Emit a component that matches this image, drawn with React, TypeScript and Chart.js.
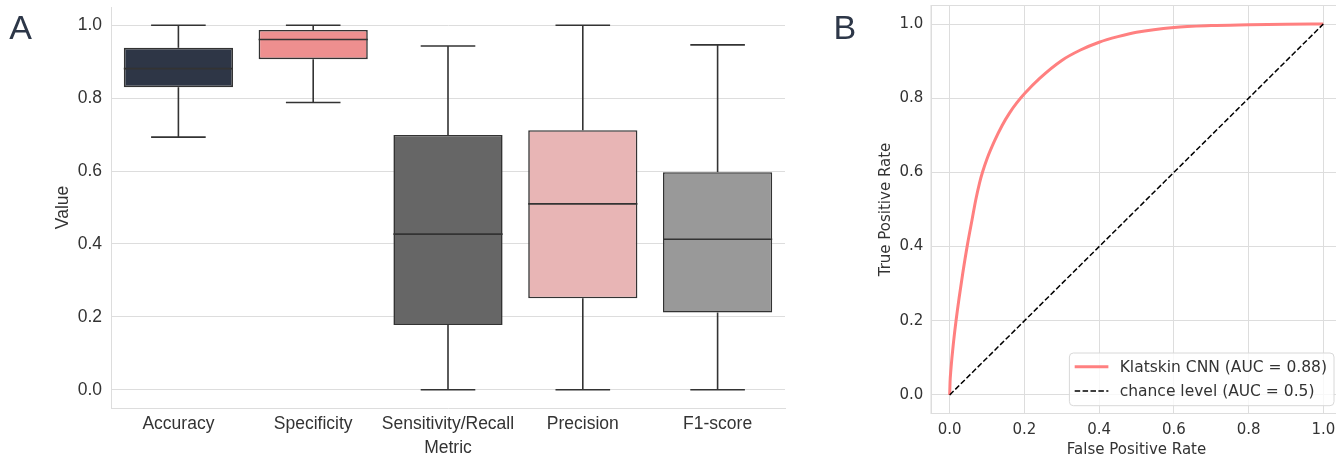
import React, { useEffect, useRef } from "react";
import { Chart, registerables } from "chart.js";
Chart.register(...registerables);

// ---------- Panel A data (box plot) ----------
const metrics = ["Accuracy", "Specificity", "Sensitivity/Recall", "Precision", "F1-score"];
const whiskerLow = [0.693, 0.788, 0.0, 0.0, 0.0];
const quartile1 = [0.83, 0.907, 0.178, 0.251, 0.212];
const medians = [0.881, 0.961, 0.427, 0.51, 0.413];
const quartile3 = [0.938, 0.987, 0.699, 0.712, 0.597];
const whiskerHigh = [1.0, 1.0, 0.943, 1.0, 0.946];
const boxColors = ["#2e3646", "#ee8f8f", "#666666", "#e8b5b5", "#999999"];

// ---------- Panel B data (ROC) ----------
const fpr = [0, 0.001, 0.003, 0.006, 0.01, 0.017, 0.025, 0.035, 0.048, 0.06, 0.07, 0.08, 0.088, 0.1, 0.12, 0.14, 0.16, 0.18, 0.2, 0.24, 0.3, 0.35, 0.4, 0.45, 0.5, 0.6, 0.7, 0.8, 0.9, 1.0];
const tpr = [0, 0.035, 0.065, 0.1, 0.14, 0.2, 0.26, 0.328, 0.408, 0.473, 0.527, 0.572, 0.601, 0.637, 0.685, 0.726, 0.76, 0.788, 0.812, 0.853, 0.902, 0.93, 0.951, 0.966, 0.978, 0.991, 0.996, 0.998, 0.9995, 1.0];
const chanceX = [0, 1];
const chanceY = [0, 1];
const rocLabel = "Klatskin CNN (AUC = 0.88)";
const chanceLabel = "chance level (AUC = 0.5)";

const unitTicks = [0, 0.2, 0.4, 0.6, 0.8, 1.0];

const ARIAL = '"Liberation Sans", Arial, sans-serif';
const DEJAVU = '"DejaVu Sans", sans-serif';
const TEXT = "#333333";
const GRID = "#dddddd";
const EDGE = "#333333";

const letterPlugin = {
  id: "panelLetter",
  afterDraw(chart: any, _args: any, opts: any) {
    const ctx = chart.ctx;
    ctx.save();
    ctx.font = `${opts.size}px ${opts.family}`;
    ctx.fillStyle = opts.color;
    ctx.textAlign = "left";
    ctx.textBaseline = "alphabetic";
    ctx.fillText(opts.text, opts.x, opts.y);
    ctx.restore();
  },
};

const boxWhiskers = {
  id: "boxWhiskers",
  afterDatasetsDraw(chart: any) {
    const meta = chart.getDatasetMeta(0);
    const ys = chart.scales.y;
    const ctx = chart.ctx;
    ctx.save();
    ctx.strokeStyle = EDGE;
    ctx.lineWidth = 1.6;
    const line = (x1: number, y1: number, x2: number, y2: number) => {
      ctx.beginPath();
      ctx.moveTo(x1, y1);
      ctx.lineTo(x2, y2);
      ctx.stroke();
    };
    meta.data.forEach((bar: any, i: number) => {
      const { x, width } = bar.getProps(["x", "width"], true);
      const yLow = ys.getPixelForValue(whiskerLow[i]);
      const yQ1 = ys.getPixelForValue(quartile1[i]);
      const yMed = ys.getPixelForValue(medians[i]);
      const yQ3 = ys.getPixelForValue(quartile3[i]);
      const yHigh = ys.getPixelForValue(whiskerHigh[i]);
      line(x, yQ1, x, yLow);
      line(x - width / 4, yLow, x + width / 4, yLow);
      line(x, yQ3, x, yHigh);
      line(x - width / 4, yHigh, x + width / 4, yHigh);
      line(x - width / 2, yMed, x + width / 2, yMed);
    });
    ctx.restore();
  },
};

const frameBox = {
  id: "frameBox",
  beforeDatasetsDraw(chart: any) {
    const { ctx, chartArea } = chart;
    ctx.save();
    ctx.strokeStyle = GRID;
    ctx.lineWidth = 1;
    ctx.strokeRect(chartArea.left, chartArea.top, chartArea.right - chartArea.left, chartArea.bottom - chartArea.top);
    ctx.restore();
  },
};

const rocLegend = {
  id: "rocLegend",
  afterDraw(chart: any) {
    const { ctx, chartArea } = chart;
    const ds = chart.data.datasets;
    ctx.save();
    ctx.font = `15.5px ${DEJAVU}`;
    const textW = Math.max(...ds.map((d: any) => ctx.measureText(d.label).width));
    const padL = 5.3, handle = 33.7, gap = 11.3, padR = 7;
    const boxW = padL + handle + gap + textW + padR;
    const boxH = 52.7;
    const right = chartArea.right - 8;
    const bottom = chartArea.bottom - 7.8;
    const left = right - boxW;
    const top = bottom - boxH;
    ctx.beginPath();
    ctx.roundRect(left, top, boxW, boxH, 4);
    ctx.fillStyle = "rgba(255,255,255,0.8)";
    ctx.fill();
    ctx.strokeStyle = "#d8d8d8";
    ctx.lineWidth = 1;
    ctx.stroke();
    ds.forEach((d: any, i: number) => {
      const yy = top + 13.7 + i * 24.3;
      ctx.beginPath();
      ctx.setLineDash(d.borderDash || []);
      ctx.strokeStyle = d.borderColor;
      ctx.lineWidth = d.borderWidth;
      ctx.moveTo(left + padL, yy);
      ctx.lineTo(left + padL + handle, yy);
      ctx.stroke();
      ctx.setLineDash([]);
      ctx.fillStyle = TEXT;
      ctx.textAlign = "left";
      ctx.textBaseline = "middle";
      ctx.fillText(d.label, left + padL + handle + gap, yy + 0.8);
    });
    ctx.restore();
  },
};

const fixTicks = (scale: any) => {
  scale.ticks = unitTicks.map((v) => ({ value: v }));
};
const fmt = (v: any) => Number(v).toFixed(1);
const noPad = (s: any) => {
  s.paddingTop = 0;
  s.paddingBottom = 0;
  s.paddingLeft = 0;
  s.paddingRight = 0;
};

export default function App() {
  const refA = useRef<HTMLCanvasElement>(null);
  const refB = useRef<HTMLCanvasElement>(null);

  useEffect(() => {
    const fontA = { family: ARIAL, size: 17.5 };
    const chartA = new Chart(refA.current!, {
      type: "bar",
      data: {
        labels: metrics,
        datasets: [
          {
            label: "Value",
            data: quartile1.map((q, i) => [q, quartile3[i]]) as any,
            backgroundColor: boxColors,
            borderColor: EDGE,
            borderWidth: 1.6,
            borderSkipped: false,
            barPercentage: 0.81,
            categoryPercentage: 1.0,
          },
        ],
      },
      options: {
        responsive: false,
        animation: false,
        devicePixelRatio: 1,
        layout: { padding: { left: 0, top: 7, right: 15, bottom: 0 } },
        plugins: {
          legend: { display: false },
          tooltip: { enabled: false },
          panelLetter: { text: "A", x: 9.3, y: 39.3, size: 34, family: ARIAL, color: "#2d3748" },
        } as any,
        scales: {
          x: {
            type: "category",
            grid: { display: false, drawTicks: false },
            border: { display: true, color: GRID, width: 1 },
            ticks: { font: fontA, color: TEXT, padding: 6, maxRotation: 0, autoSkip: false },
            title: { display: true, text: "Metric", font: fontA, color: TEXT, padding: { top: 0, bottom: 11.6 } },
            afterFit: (s: any) => {
              s.height = 62;
              noPad(s);
            },
          },
          y: {
            type: "linear",
            min: -0.05,
            max: 1.05,
            afterBuildTicks: fixTicks,
            grid: { color: GRID, lineWidth: 1, drawTicks: false },
            border: { display: true, color: GRID, width: 1 },
            ticks: { font: fontA, color: TEXT, padding: 9, callback: fmt },
            title: { display: true, text: "Value", font: fontA, color: TEXT, padding: { top: 52.4, bottom: 0 } },
            afterFit: (s: any) => {
              s.width = 111;
              noPad(s);
            },
          },
        },
      },
      plugins: [boxWhiskers, letterPlugin],
    });

    const fontB = { family: DEJAVU, size: 15 };
    const chartB = new Chart(refB.current!, {
      type: "scatter",
      data: {
        datasets: [
          {
            label: rocLabel,
            data: fpr.map((x, i) => ({ x, y: tpr[i] })),
            showLine: true,
            borderColor: "#ff8080",
            borderWidth: 3,
            pointRadius: 0,
            cubicInterpolationMode: "monotone",
            order: 1,
          },
          {
            label: chanceLabel,
            data: chanceX.map((x, i) => ({ x, y: chanceY[i] })),
            showLine: true,
            borderColor: "#000000",
            borderWidth: 1.5,
            borderDash: [5.5, 2.4],
            pointRadius: 0,
            order: 0,
          },
        ],
      },
      options: {
        responsive: false,
        animation: false,
        devicePixelRatio: 1,
        layout: { padding: { left: 0, top: 5.5, right: 18, bottom: 0 } },
        plugins: {
          legend: { display: false },
          tooltip: { enabled: false },
          panelLetter: { text: "B", x: 3.5, y: 39.3, size: 34, family: ARIAL, color: "#2d3748" },
        } as any,
        scales: {
          x: {
            type: "linear",
            min: -0.05,
            max: 1.05,
            afterBuildTicks: fixTicks,
            grid: { color: GRID, lineWidth: 1, drawTicks: false },
            border: { display: true, color: GRID, width: 1 },
            ticks: { font: fontB, color: TEXT, padding: 7.5, callback: fmt, maxRotation: 0 },
            title: { display: true, text: "False Positive Rate", font: fontB, color: TEXT, padding: { top: 0, bottom: 11.2 } },
            afterFit: (s: any) => {
              s.height = 56.5;
              noPad(s);
            },
          },
          y: {
            type: "linear",
            min: -0.05,
            max: 1.05,
            afterBuildTicks: fixTicks,
            grid: { color: GRID, lineWidth: 1, drawTicks: false },
            border: { display: true, color: GRID, width: 1 },
            ticks: { font: fontB, color: TEXT, padding: 7.7, callback: fmt },
            title: { display: true, text: "True Positive Rate", font: fontB, color: TEXT, padding: { top: 47.5, bottom: 0 } },
            afterFit: (s: any) => {
              s.width = 101;
              noPad(s);
            },
          },
        },
      },
      plugins: [frameBox, rocLegend, letterPlugin],
    });

    return () => {
      chartA.destroy();
      chartB.destroy();
    };
  }, []);

  return (
    <div
      style={{
        position: "fixed",
        left: 0,
        top: 0,
        width: 1336,
        height: 455,
        overflow: "hidden",
        background: "#ffffff",
      }}
    >
      <canvas ref={refA} width={800} height={470} style={{ position: "absolute", left: 0, top: 0 }} />
      <canvas ref={refB} width={530} height={470} style={{ position: "absolute", left: 830, top: 0 }} />
    </div>
  );
}
